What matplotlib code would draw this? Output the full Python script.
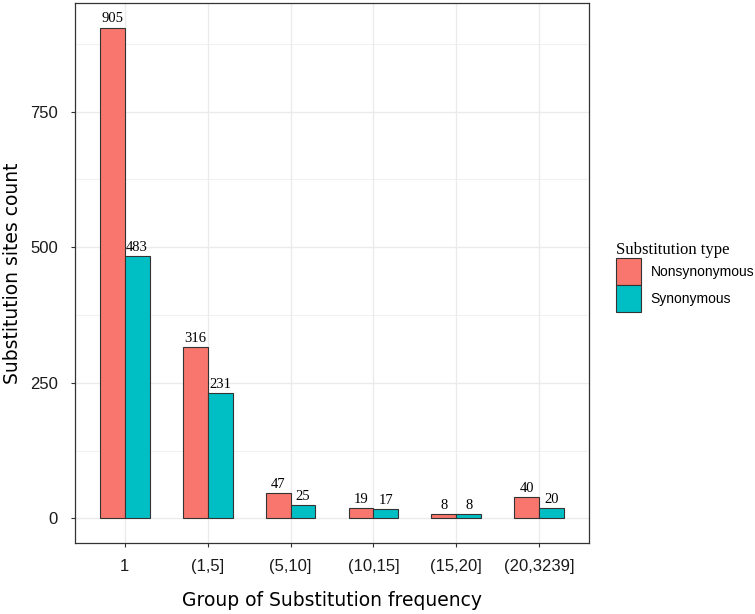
import numpy as np
import matplotlib
matplotlib.use('Agg')
import matplotlib.pyplot as plt

# Data
categories = ['1', '(1,5]', '(5,10]', '(10,15]', '(15,20]', '(20,3239]']
nonsynonymous = [905, 316, 47, 19, 8, 40]
synonymous = [483, 231, 25, 17, 8, 20]
series_names = ['Nonsynonymous', 'Synonymous']
y_ticks = [0, 250, 500, 750]
y_minor = [125, 375, 625, 875]

colors = ['#F8766D', '#00BFC4']
edge = '#333333'
grid_col = '#EBEBEB'

fig = plt.figure(figsize=(7.55, 6.14), dpi=100)
ax = fig.add_axes([75 / 755, 71 / 614, 514 / 755, 540 / 614])

x = np.arange(len(categories))
width = 0.3

bars = []
for i, (vals, name) in enumerate(zip([nonsynonymous, synonymous], series_names)):
    b = ax.bar(x + (i - 0.5) * width, vals, width, color=colors[i],
               edgecolor=edge, linewidth=0.8, label=name, zorder=3)
    bars.append(b)
    ax.bar_label(b, padding=1.5, fontsize=10.5, family='Liberation Serif',
                 color='black', zorder=4)

# ggplot-like expansion
ymax = max(nonsynonymous + synonymous)
ax.set_ylim(-0.05 * ymax, 1.05 * ymax)
ax.set_xlim(-0.6, len(categories) - 0.4)

ax.set_xticks(x)
ax.set_xticklabels(categories)
ax.set_yticks(y_ticks)
ax.set_yticks(y_minor, minor=True)

ax.grid(True, which='major', color=grid_col, linewidth=1.0, zorder=0)
ax.grid(True, which='minor', axis='y', color=grid_col, linewidth=0.5, zorder=0)
ax.set_axisbelow(True)

for s in ax.spines.values():
    s.set_color(edge)
    s.set_linewidth(0.9)

ax.tick_params(axis='both', which='major', length=2.8, width=0.8, color=edge,
               labelsize=12, labelcolor='#1a1a1a')
ax.tick_params(axis='x', pad=8.5)
ax.tick_params(axis='y', pad=9.5)
ax.tick_params(which='minor', length=0)
for lab in ax.get_xticklabels() + ax.get_yticklabels():
    lab.set_family('Liberation Sans')

ax.set_xlabel('Group of Substitution frequency', fontsize=13.5,
              family='DejaVu Sans', color='black')
ax.set_ylabel('Substitution sites count', fontsize=13.5,
              family='DejaVu Sans', color='black')
ax.xaxis.set_label_coords(0.5, -0.089)
ax.yaxis.set_label_coords(-0.104, 0.5)

leg = ax.legend(loc='center left', bbox_to_anchor=(616 / 755, 1 - 277 / 614),
                bbox_transform=fig.transFigure, frameon=False,
                prop={'family': 'Liberation Sans', 'size': 10},
                title='Substitution type', handlelength=1.8, handleheight=2.61,
                handletextpad=0.7, labelspacing=0, borderpad=0,
                borderaxespad=0, alignment='left')
leg.get_title().set_family('Liberation Serif')
leg.get_title().set_fontsize(12)

fig.savefig('out.png', dpi=100)
